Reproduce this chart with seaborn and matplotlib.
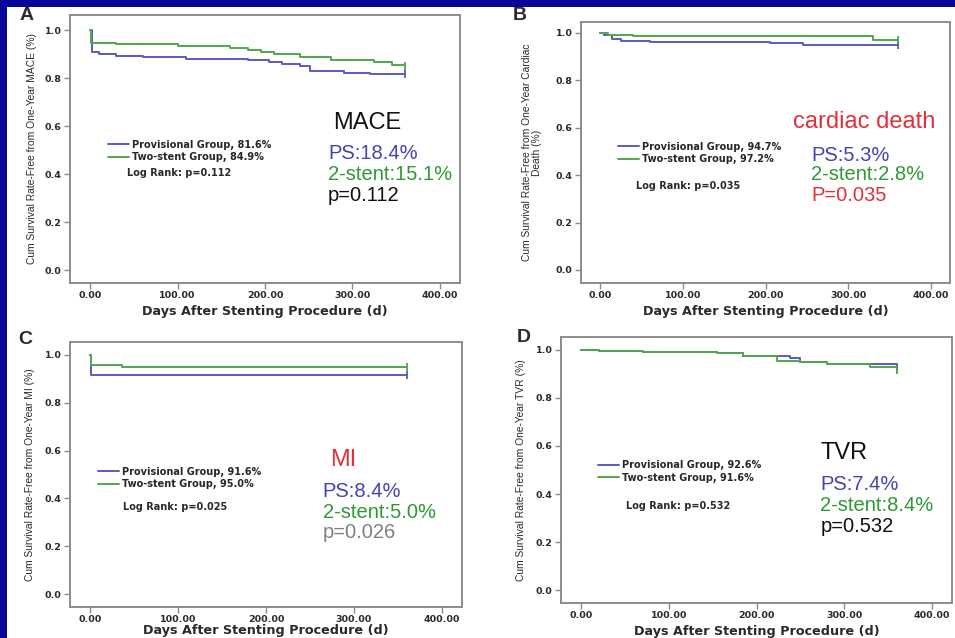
import matplotlib
matplotlib.use("Agg")
import matplotlib.pyplot as plt
import seaborn as sns
import pandas as pd
from matplotlib.patches import Rectangle

# ---------------- data ----------------
A_ps_days = [0, 2, 10, 30, 60, 110, 180, 205, 220, 240, 252, 290, 320, 360]
A_ps_surv = [1.0, 0.908, 0.900, 0.893, 0.886, 0.880, 0.873, 0.866, 0.858, 0.852, 0.828, 0.822, 0.816, 0.816]
A_ts_days = [0, 1, 30, 100, 160, 180, 195, 210, 240, 275, 325, 345, 360]
A_ts_surv = [1.0, 0.947, 0.940, 0.935, 0.926, 0.918, 0.910, 0.900, 0.889, 0.875, 0.868, 0.854, 0.849]

B_ps_days = [0, 5, 15, 25, 60, 205, 245, 360]
B_ps_surv = [1.0, 0.990, 0.975, 0.965, 0.962, 0.958, 0.947, 0.947]
B_ts_days = [0, 10, 40, 330, 360]
B_ts_surv = [1.0, 0.990, 0.985, 0.972, 0.972]

C_ps_days = [0, 1, 360]
C_ps_surv = [1.0, 0.916, 0.916]
C_ts_days = [0, 1, 36, 360]
C_ts_surv = [1.0, 0.958, 0.950, 0.950]

D_ps_days = [0, 20, 70, 110, 155, 185, 238, 250, 280, 360]
D_ps_surv = [1.0, 0.997, 0.993, 0.990, 0.986, 0.976, 0.966, 0.950, 0.940, 0.926]
D_ts_days = [0, 20, 70, 110, 155, 185, 223, 250, 280, 330, 360]
D_ts_surv = [1.0, 0.997, 0.993, 0.990, 0.986, 0.976, 0.955, 0.948, 0.940, 0.930, 0.916]

panel_letters = ["A", "B", "C", "D"]
endpoints = ["MACE", "cardiac death", "MI", "TVR"]
ps_rates = ["PS:18.4%", "PS:5.3%", "PS:8.4%", "PS:7.4%"]
ts_rates = ["2-stent:15.1%", "2-stent:2.8%", "2-stent:5.0%", "2-stent:8.4%"]
p_values = ["p=0.112", "P=0.035", "p=0.026", "p=0.532"]
logrank = ["Log Rank: p=0.112", "Log Rank: p=0.035", "Log Rank: p=0.025", "Log Rank: p=0.532"]
ps_legend = ["Provisional Group, 81.6%", "Provisional Group, 94.7%",
             "Provisional Group, 91.6%", "Provisional Group, 92.6%"]
ts_legend = ["Two-stent Group, 84.9%", "Two-stent Group, 97.2%",
             "Two-stent Group, 95.0%", "Two-stent Group, 91.6%"]
ylabels = ["Cum Survival Rate-Free from One-Year MACE (%)",
           "Cum Survival Rate-Free from One-Year Cardiac\nDeath (%)",
           "Cum Survival Rate-Free from One-Year MI (%)",
           "Cum Survival Rate-Free from One-Year TVR (%)"]
x_ticks = [0, 100, 200, 300, 400]
y_ticks = [0.0, 0.2, 0.4, 0.6, 0.8, 1.0]

series = [(A_ps_days, A_ps_surv, A_ts_days, A_ts_surv),
          (B_ps_days, B_ps_surv, B_ts_days, B_ts_surv),
          (C_ps_days, C_ps_surv, C_ts_days, C_ts_surv),
          (D_ps_days, D_ps_surv, D_ts_days, D_ts_surv)]

# ---------------- style ----------------
sns.set_theme(style="white")
plt.rcParams["font.family"] = ["Liberation Sans", "DejaVu Sans"]
SMALL = ["DejaVu Sans"]

W, H = 955, 638
BLUE_BG = "#06069a"
C_PS = "#5a5ac4"
C_TS = "#4fa84f"
T_BLUE = "#4343b5"
T_GREEN = "#2f9a34"
T_RED = "#e2303c"
SPINE = "#8c8c8c"
DARK = "#2a2a2a"

fig = plt.figure(figsize=(W / 100, H / 100), dpi=100)
fig.patch.set_facecolor(BLUE_BG)
fig.add_artist(Rectangle((7 / W, 0), 1, 1 - 7 / H, transform=fig.transFigure,
                         facecolor="white", edgecolor="none", zorder=0))

# pixel boxes: left, right, top, bottom
boxes = [(70, 460, 15, 283), (581, 950, 22, 283), (70, 462, 342, 607), (561, 952, 337, 603)]
ylims = [(-0.054, 1.0625), (-0.055, 1.046), (-0.054, 1.054), (-0.054, 1.054)]
letter_pos = [(20, 15), (513, 15), (18, 340), (517, 337)]
ylabel_x = [-0.085, -0.105, -0.09, -0.09]
xlabel_y = [-0.083, -0.083, -0.066, -0.083]
# annotation positions (axes fraction)
title_xy = [(0.674, 0.597), (0.575, 0.617), (0.663, 0.555), (0.663, 0.564)]
stat_x = [0.662, 0.623, 0.645, 0.663]
stat_y = [(0.485, 0.403, 0.328), (0.49, 0.414, 0.337), (0.434, 0.358, 0.283), (0.444, 0.365, 0.286)]
title_col = ["#111111", T_RED, T_RED, "#111111"]
p_col = ["#111111", T_RED, "#808080", "#111111"]
leg_xy = [(0.097, 0.535), (0.100, 0.542), (0.071, 0.530), (0.094, 0.536)]
lr_xy = [(0.146, 0.41), (0.149, 0.372), (0.135, 0.377), (0.166, 0.365)]

for i in range(4):
    l, r, t, b = boxes[i]
    ax = fig.add_axes([l / W, (H - b) / H, (r - l) / W, (b - t) / H])
    ax.set_facecolor("white")
    psd, pss, tsd, tss = series[i]
    df = pd.DataFrame({
        "day": psd + tsd,
        "surv": pss + tss,
        "group": ["Provisional"] * len(psd) + ["Two-stent"] * len(tsd),
    })
    sns.lineplot(data=df, x="day", y="surv", hue="group",
                 palette={"Provisional": C_PS, "Two-stent": C_TS},
                 drawstyle="steps-post", estimator=None, sort=False,
                 legend=False, linewidth=1.4, ax=ax)
    lines = list(ax.get_lines())
    ax.plot(psd[-1], pss[-1], marker="|", ms=6, mew=1.3, color=C_PS)
    ax.plot(tsd[-1], tss[-1], marker="|", ms=6, mew=1.3, color=C_TS)

    ax.set_xlim(-23, 423)
    ax.set_ylim(*ylims[i])
    ax.set_xticks(x_ticks)
    ax.set_xticklabels([f"{v:.2f}" for v in x_ticks])
    ax.set_yticks(y_ticks)
    ax.set_yticklabels([f"{v:.1f}" for v in y_ticks])
    ax.tick_params(axis="both", length=4, width=1, color=SPINE, labelsize=6.8,
                   pad=2, labelcolor=DARK, bottom=True, left=True)
    for lab in ax.get_xticklabels() + ax.get_yticklabels():
        lab.set_fontweight("bold")
        lab.set_family(SMALL)
    for sp in ax.spines.values():
        sp.set_color(SPINE)
        sp.set_linewidth(1.4)

    ax.set_xlabel("Days After Stenting Procedure (d)", fontsize=9.2,
                  fontweight="bold", color=DARK, family=SMALL)
    ax.xaxis.set_label_coords(0.5, xlabel_y[i])
    ax.set_ylabel(ylabels[i], fontsize=7.4, color=DARK, linespacing=1.0)
    ax.yaxis.set_label_coords(ylabel_x[i], 0.5)

    ax.legend(handles=lines[:2], labels=[ps_legend[i], ts_legend[i]],
              loc="upper left", bbox_to_anchor=leg_xy[i], frameon=False,
              prop={"size": 7.0, "weight": "bold", "family": SMALL}, handlelength=2.2,
              handletextpad=0.25, labelspacing=0.25, borderpad=0, borderaxespad=0)
    ax.text(lr_xy[i][0], lr_xy[i][1], logrank[i], transform=ax.transAxes,
            fontsize=7.0, fontweight="bold", color=DARK, va="center", family=SMALL)

    ax.text(title_xy[i][0], title_xy[i][1], endpoints[i], transform=ax.transAxes,
            fontsize=17, color=title_col[i], va="center", ha="left")
    sy = stat_y[i]
    ax.text(stat_x[i], sy[0], ps_rates[i], transform=ax.transAxes,
            fontsize=14.5, color=T_BLUE, va="center", ha="left")
    ax.text(stat_x[i], sy[1], ts_rates[i], transform=ax.transAxes,
            fontsize=14.5, color=T_GREEN, va="center", ha="left")
    ax.text(stat_x[i], sy[2], p_values[i], transform=ax.transAxes,
            fontsize=14.5, color=p_col[i], va="center", ha="left")

    lx, ly = letter_pos[i]
    fig.text(lx / W, 1 - ly / H, panel_letters[i], fontsize=14, fontweight="bold",
             color=DARK, va="center", ha="left")

fig.savefig("out.png", dpi=100, facecolor=fig.get_facecolor())
